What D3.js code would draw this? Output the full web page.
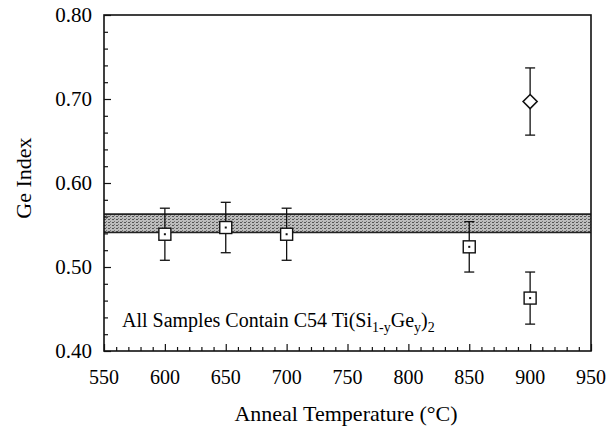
<!DOCTYPE html>
<html>
<head>
<meta charset="utf-8">
<script src="https://cdn.jsdelivr.net/npm/d3@7.9.0/dist/d3.min.js"></script>
<style>
  body { margin: 0; background: #fff; }
  svg text { fill: #000; }
</style>
</head>
<body>
<svg id="chart" width="609" height="430"></svg>
<script>
// data
const temps = [600, 650, 700, 850, 900];
const geSquare = [0.539, 0.547, 0.539, 0.524, 0.463];
const errSquare = [0.031, 0.030, 0.031, 0.030, 0.031];
const diamondTemp = [900];
const geDiamond = [0.697];
const errDiamond = [0.040];
const band = [0.541, 0.563];
const xTicks = [550, 600, 650, 700, 750, 800, 850, 900, 950];
const yTicks = [0.40, 0.50, 0.60, 0.70, 0.80];

const serif = '"Liberation Serif", "DejaVu Serif", serif';
const svg = d3.select('#chart');
const plotL = 104, plotR = 591, plotT = 15, plotB = 351;

let x = d3.scaleLinear().domain([550, 950]).range([plotL, plotR]);
let y = d3.scaleLinear().domain([0.40, 0.80]).range([plotB, plotT]);

// shaded band
const defs = svg.append('defs');
const pat = defs.append('pattern')
    .attr('id', 'dither').attr('width', 4).attr('height', 3)
    .attr('patternUnits', 'userSpaceOnUse');
pat.append('rect').attr('width', 4).attr('height', 3).attr('fill', '#bdbdbd');
pat.append('rect').attr('width', 2).attr('height', 1).attr('fill', '#555');
pat.append('rect').attr('x', 2).attr('y', 2).attr('width', 1).attr('height', 1).attr('fill', '#777');

svg.append('rect')
    .attr('x', x(550)).attr('width', x(950) - x(550))
    .attr('y', y(band[1])).attr('height', y(band[0]) - y(band[1]))
    .attr('fill', 'url(#dither)');
band.forEach(v => {
  svg.append('line')
      .attr('x1', x(550)).attr('x2', x(950))
      .attr('y1', y(v)).attr('y2', y(v))
      .attr('stroke', '#222').attr('stroke-width', 1.6);
});

// frame
svg.append('rect')
    .attr('x', plotL).attr('y', plotT)
    .attr('width', plotR - plotL).attr('height', plotB - plotT)
    .attr('fill', 'none').attr('stroke', '#111').attr('stroke-width', 1.6);

// y axis: inward ticks, minor every 0.02
const yAxis = d3.axisRight(y).tickValues(d3.range(0.40, 0.801, 0.02))
    .tickSize(0).tickFormat('');
const gy = svg.append('g').attr('transform', `translate(${plotL},0)`).call(yAxis);
gy.select('.domain').remove();
gy.selectAll('.tick line')
    .attr('x2', (d, i) => i % 5 === 0 ? 7 : 4)
    .attr('stroke', '#111').attr('stroke-width', 1.2);

svg.selectAll('.ylab')
    .data(yTicks).enter().append('text')
    .attr('x', 92).attr('y', d => y(d) + 7)
    .attr('text-anchor', 'end').attr('font-size', 21)
    .style('font-family', serif)
    .text(d => d.toFixed(2));

// x axis: inward ticks, minor every 10
const xAxis = d3.axisTop(x).tickValues(d3.range(550, 951, 10))
    .tickSize(0).tickFormat('');
const gx = svg.append('g').attr('transform', `translate(0,${plotB})`).call(xAxis);
gx.select('.domain').remove();
gx.selectAll('.tick line')
    .attr('y2', (d) => d % 50 === 0 ? -7 : -4)
    .attr('stroke', '#111').attr('stroke-width', 1.2);

svg.selectAll('.xlab')
    .data(xTicks).enter().append('text')
    .attr('x', d => x(d)).attr('y', 384)
    .attr('text-anchor', 'middle').attr('font-size', 20)
    .style('font-family', serif)
    .text(d => d);

// axis titles
svg.append('text')
    .attr('transform', `translate(31,178) rotate(-90)`)
    .attr('text-anchor', 'middle').attr('font-size', 22)
    .style('font-family', serif)
    .text('Ge Index');
svg.append('text')
    .attr('x', 346).attr('y', 421)
    .attr('text-anchor', 'middle').attr('font-size', 22)
    .style('font-family', serif)
    .text('Anneal Temperature (°C)');

// annotation
const note = svg.append('text').attr('x', 122).attr('y', 327).attr('font-size', 20)
    .style('font-family', serif);
note.append('tspan').text('All Samples Contain C54 Ti(Si');
note.append('tspan').attr('font-size', 14).attr('dy', 5).text('1-y');
note.append('tspan').attr('dy', -5).text('Ge');
note.append('tspan').attr('font-size', 14).attr('dy', 5).text('y');
note.append('tspan').attr('dy', -5).text(')');
note.append('tspan').attr('font-size', 14).attr('dy', 5).text('2');

// error bars
function errorBars(xs, ys, es) {
  const pts = xs.map((t, i) => ({ t, v: ys[i], e: es[i] }));
  const g = svg.append('g').attr('stroke', '#111').attr('stroke-width', 1.3);
  g.selectAll('.eb').data(pts).enter().append('line')
      .attr('x1', d => x(d.t)).attr('x2', d => x(d.t))
      .attr('y1', d => y(d.v + d.e)).attr('y2', d => y(d.v - d.e));
  g.selectAll('.cap1').data(pts).enter().append('line')
      .attr('x1', d => x(d.t) - 5).attr('x2', d => x(d.t) + 5)
      .attr('y1', d => y(d.v + d.e)).attr('y2', d => y(d.v + d.e));
  g.selectAll('.cap2').data(pts).enter().append('line')
      .attr('x1', d => x(d.t) - 5).attr('x2', d => x(d.t) + 5)
      .attr('y1', d => y(d.v - d.e)).attr('y2', d => y(d.v - d.e));
  return pts;
}

const sq = errorBars(temps, geSquare, errSquare);
svg.selectAll('.sq').data(sq).enter().append('rect')
    .attr('x', d => x(d.t) - 6).attr('y', d => y(d.v) - 6)
    .attr('width', 12).attr('height', 12)
    .attr('fill', '#fff').attr('stroke', '#111').attr('stroke-width', 1.4);
svg.selectAll('.dot').data(sq).enter().append('rect')
    .attr('x', d => x(d.t) - 1).attr('y', d => y(d.v) - 1)
    .attr('width', 2).attr('height', 2).attr('fill', '#111');

const dm = errorBars(diamondTemp, geDiamond, errDiamond);
svg.selectAll('.dm').data(dm).enter().append('path')
    .attr('d', d => `M${x(d.t)},${y(d.v) - 7}L${x(d.t) + 7},${y(d.v)}L${x(d.t)},${y(d.v) + 7}L${x(d.t) - 7},${y(d.v)}Z`)
    .attr('fill', '#fff').attr('stroke', '#111').attr('stroke-width', 1.6);
</script>
</body>
</html>
